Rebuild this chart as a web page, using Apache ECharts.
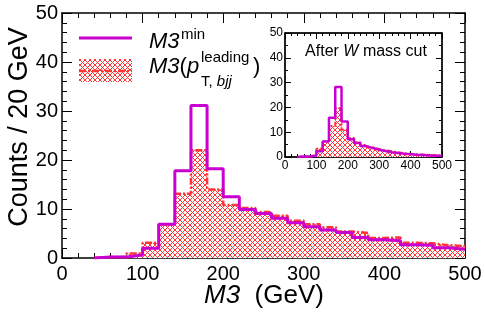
<!DOCTYPE html>
<html><head><meta charset="utf-8">
<script src="https://cdn.jsdelivr.net/npm/echarts@6/dist/echarts.min.js"></script>
<style>html,body{margin:0;padding:0;background:#fff}#c{width:485px;height:320px}</style>
</head><body><div id="c"></div>
<script>
// Bin low edges (GeV), 20 GeV bins
var binEdges = [40,60,80,100,120,140,160,180,200,220,240,260,280,300,320,340,360,380,400,420,440,460,480];
var binUpper = 500;
// Main plot: M3^min (magenta)
var mainMin = [0.2,0.2,0.6,2.0,6.9,17.8,31.1,18.2,12.5,9.9,9.1,8.1,7.2,6.4,5.7,5.2,4.2,3.7,3.5,2.7,2.6,2.1,1.8];
// Main plot: M3(pT leading) (red hatched)
var mainLead = [0.2,0.2,0.9,3.1,6.9,13.1,22.0,14.0,10.8,10.2,9.4,8.6,7.6,6.9,6.3,5.4,5.1,4.1,4.2,3.1,3.0,2.6,2.4];
// Inset (after W mass cut)
var insetMin = [0.2,0.2,0.6,2.3,6.3,15.8,28.2,14.3,7.2,5.6,4.4,3.6,2.9,2.4,1.9,1.6,1.3,1.1,0.9,0.8,0.6,0.5,0.5];
var insetLead = [0.2,0.3,0.8,3.3,6.5,12.5,19.7,11.0,7.7,5.9,4.8,3.9,3.2,2.7,2.3,1.9,1.5,1.3,1.1,1.0,0.8,0.7,0.6];
// Axis ticks
var xTicks = [0,100,200,300,400,500];
var yTicksMain = [0,10,20,30,40,50];

function steps(vals){
  var pts = [[binEdges[0],0]];
  for (var i=0;i<vals.length;i++) pts.push([binEdges[i], vals[i]]);
  pts.push([binUpper, vals[vals.length-1]]);
  return pts;
}
var RED = '#ff3535', MAG = '#c800d0';
function hatch(){
  var n = 5;
  var cv = document.createElement('canvas'); cv.width=n; cv.height=n;
  var ctx = cv.getContext('2d'); ctx.fillStyle='#fff'; ctx.fillRect(0,0,n,n);
  ctx.fillStyle = RED;
  for (var i=0;i<n;i++){ ctx.fillRect(i,i,1,1); ctx.fillRect(n-1-i,i,1,1); }
  return {image: cv, repeat: 'repeat'};
}
var pat = hatch();
var FF = 'Liberation Sans, Arial, sans-serif';
var axLine = {show:true, onZero:false, lineStyle:{color:'#000', width:1.5}};
function xa(grid, pos, labels, fs, big){
  return {type:'value', gridIndex:grid, position:pos, min:0, max:500, interval:100,
    axisLine: axLine, splitLine:{show:false},
    axisTick:{show:true, inside:true, length: big?10:6, lineStyle:{color:'#000', width:1}},
    minorTick:{show:true, splitNumber:5, length: big?5:3, lineStyle:{color:'#000', width:1}},
    axisLabel:{show:labels, fontSize:fs, color:'#000', fontFamily:FF, margin: big?6:3,
      formatter:function(v){return xTicks.indexOf(v)>=0? String(v):'';}}};
}
function ya(grid, pos, labels, fs, big){
  return {type:'value', gridIndex:grid, position:pos, min:0, max:50, interval:10,
    axisLine: axLine, splitLine:{show:false},
    axisTick:{show:true, inside:true, length: big?10:6, lineStyle:{color:'#000', width:1}},
    minorTick:{show:true, splitNumber: big?5:2, length: big?5:3, lineStyle:{color:'#000', width:1}},
    axisLabel:{show:labels, fontSize:fs, color:'#000', fontFamily:FF, margin: big?4:2,
      formatter:function(v){return yTicksMain.indexOf(v)>=0? String(v):'';}}};
}
var chart = echarts.init(document.getElementById('c'), null, {renderer:'canvas'});
chart.setOption({
  animation:false,
  backgroundColor:'#fff',
  grid:[
    {left:62, right:20, top:13, bottom:62, show:false},
    {left:285, top:33, width:157, height:124, show:true, borderColor:'#000', borderWidth:1, backgroundColor:'#fff'}
  ],
  xAxis:[xa(0,'bottom',true,20,true), xa(0,'top',false,20,true), xa(1,'bottom',true,12,false), xa(1,'top',false,12,false)],
  yAxis:[ya(0,'left',true,20,true), ya(0,'right',false,20,true), ya(1,'left',true,12,false), ya(1,'right',false,12,false)],
  series:[
    {type:'line', xAxisIndex:0, yAxisIndex:0, step:'end', symbol:'none', data:steps(mainLead),
      lineStyle:{color:RED, width:2.5, type:[7,2,2,2]}, areaStyle:{color:pat, opacity:1}, z:2},
    {type:'line', xAxisIndex:0, yAxisIndex:0, step:'end', symbol:'none', data:steps(mainMin),
      lineStyle:{color:MAG, width:3}, z:3},
    {type:'line', xAxisIndex:2, yAxisIndex:2, step:'end', symbol:'none', data:steps(insetLead),
      lineStyle:{color:RED, width:2, type:[5,2,2,2]}, areaStyle:{color:pat, opacity:1}, z:2},
    {type:'line', xAxisIndex:2, yAxisIndex:2, step:'end', symbol:'none', data:steps(insetMin),
      lineStyle:{color:MAG, width:2.5}, z:3}
  ],
  graphic:[
    {type:'text', x:20, y:127, rotation:Math.PI/2, style:{text:'Counts / 20 GeV', font:'27px '+FF, fill:'#000', align:'center', verticalAlign:'middle', textAlign:'center', textVerticalAlign:'middle'}},
    {type:'text', x:264, y:296, style:{text:'{i|M3}{n|  (GeV)}', fill:'#000', align:'center', verticalAlign:'middle', textAlign:'center', textVerticalAlign:'middle',
      rich:{i:{fontSize:26, fontStyle:'italic', fontFamily:FF, fill:'#000'}, n:{fontSize:26, fontFamily:FF, fill:'#000'}}}},
    // legend
    {type:'line', shape:{x1:79,y1:38,x2:132,y2:38}, style:{stroke:MAG, lineWidth:3}},
    {type:'rect', shape:{x:79,y:59,width:53,height:23}, style:{fill:pat, stroke:null}},
    {type:'line', shape:{x1:79,y1:71,x2:132,y2:71}, style:{stroke:RED, lineWidth:2.5, lineDash:[7,2,2,2]}},
    {type:'text', x:149, y:42, style:{text:'M3', font:'italic 22px '+FF, fill:'#000', verticalAlign:'middle', textVerticalAlign:'middle'}},
    {type:'text', x:181, y:35, style:{text:'min', font:'15px '+FF, fill:'#000', verticalAlign:'middle', textVerticalAlign:'middle'}},
    {type:'text', x:149, y:67, style:{text:'{i|M3}{n|(}{i|p}', verticalAlign:'middle', textVerticalAlign:'middle',
      rich:{i:{fontSize:22, fontStyle:'italic', fontFamily:FF, fill:'#000'}, n:{fontSize:22, fontFamily:FF, fill:'#000'}}}},
    {type:'text', x:201, y:58, style:{text:'leading', font:'15px '+FF, fill:'#000', verticalAlign:'middle', textVerticalAlign:'middle'}},
    {type:'text', x:201, y:82, style:{text:'{n|T, }{i|bjj}', verticalAlign:'middle', textVerticalAlign:'middle',
      rich:{i:{fontSize:15, fontStyle:'italic', fontFamily:FF, fill:'#000'}, n:{fontSize:15, fontFamily:FF, fill:'#000'}}}},
    {type:'text', x:253, y:67, style:{text:')', font:'22px '+FF, fill:'#000', verticalAlign:'middle', textVerticalAlign:'middle'}},
    // inset title
    {type:'text', x:366, y:52, z:100, style:{text:'{n|After }{i|W}{n| mass cut}', align:'center', verticalAlign:'middle', textAlign:'center', textVerticalAlign:'middle',
      rich:{i:{fontSize:16, fontStyle:'italic', fontFamily:FF, fill:'#000'}, n:{fontSize:16, fontFamily:FF, fill:'#000'}}}}
  ]
});
</script></body></html>
